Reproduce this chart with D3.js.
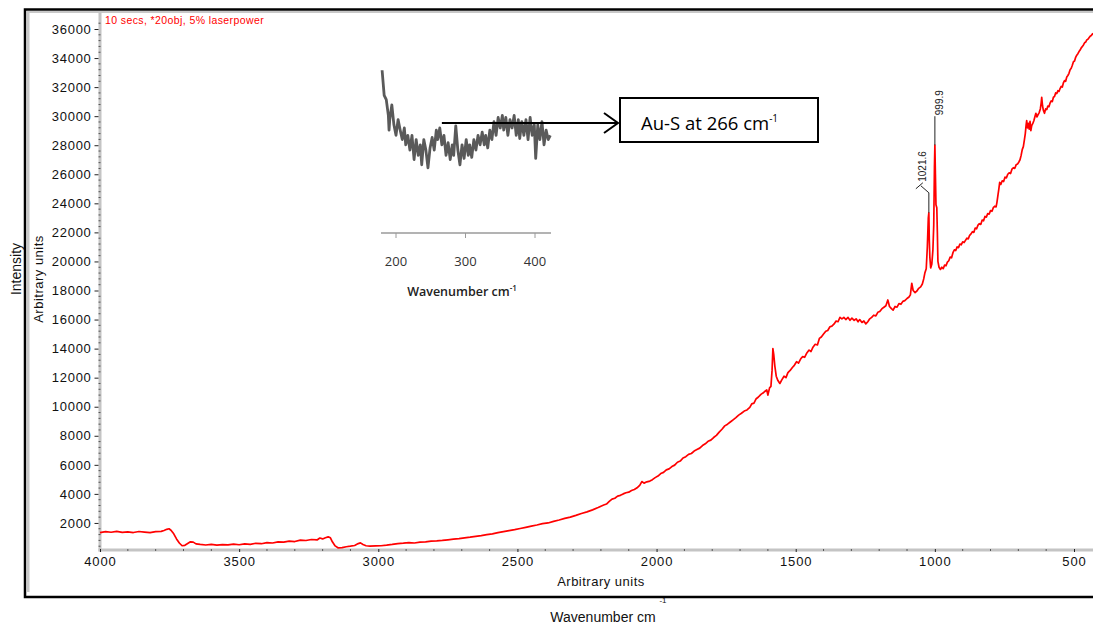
<!DOCTYPE html>
<html>
<head>
<meta charset="utf-8">
<script src="https://d3js.org/d3.v7.min.js"></script>
<style>
  body { margin: 0; background: #fff; }
  svg { display: block; font-family: "Liberation Sans", Arial, sans-serif; }
</style>
</head>
<body>
<div id="chart"></div>
<script>
// main Raman spectrum (wavenumber cm-1, intensity)
var wavenumbers = [4000,3980,3960,3940,3920,3900,3880,3860,3840,3820,3800,3780,3770,3760,3752,3745,3735,3725,3715,3705,3695,3685,3675,3665,3655,3640,3620,3600,3580,3560,3540,3520,3500,3480,3460,3440,3420,3400,3380,3360,3340,3320,3300,3280,3260,3240,3220,3210,3200,3190,3180,3172,3165,3155,3145,3130,3115,3100,3085,3072,3064,3055,3044,3030,3010,2990,2970,2950,2930,2910,2890,2870,2850,2830,2810,2790,2770,2750,2730,2710,2690,2670,2650,2630,2610,2590,2570,2550,2530,2510,2490,2470,2450,2430,2410,2390,2370,2350,2330,2310,2290,2270,2250,2230,2210,
  2200,2190,2180,2170,2160,2150,2140,2130,2120,2110,2100,2090,2080,2070,2060,2053,2045,2035,2024,2015,2005,1995,1985,1975,1965,1955,1945,1935,1925,1915,1905,1895,1885,1875,1865,1855,1845,1835,1825,1815,1805,1795,1785,1775,1765,1755,1745,1735,1725,1715,1705,1695,1685,1675,1665,1658,1650,1642,1635,1625,1615,1608,1604,
  1600,1594,1589,1585,1582,1579,1575,1570,1564,1557,1550,1542,1535,1528,1520,1512,1505,1497,1490,1482,1475,1468,1460,1452,1445,1438,1430,1422,1415,1408,1400,1392,1385,1377,1370,1362,1355,1348,1341,1334,1327,1320,1312,1305,1298,1290,1283,1276,1270,1262,1255,1248,1241,1234,1227,1220,1212,1205,1198,1190,1183,1176,1169,1163,1156,1150,1143,1136,1129,1122,1115,1108,1100,1093,1088,1083,1078,1071,1065,1058,1051,1045,1040,1036,1031,1027,1023.5,1021.6,1020,1018,1015,1011,1007,1004,1001.5,999.9,998,996,993,991,989,985,980,975,970,965,960,955,950,945,940,935,930,925,920,915,910,905,900,895,890,885,880,875,870,865,860,855,850,845,840,835,830,825,820,815,810,805,800,795,790,785,780,777,773,770,767,763,758,753,748,743,738,733,728,723,718,713,708,703,698,694,690,686,682,678,675,672,670,667,664,661,658,655,652,648,644,640,637,633,629,625,621,618,616,613,610,606,602,598,594,590,586,582,578,574,570,566,562,558,554,550,546,542,538,534,530,526,522,518,514,510,506,502,498,494,490,486,482,478,474,470,466,462,458,454,450,446,442,438,434,430,425,420];
var intensities = [1330,1400,1360,1420,1350,1390,1340,1410,1370,1330,1400,1420,1480,1560,1600,1500,1250,900,620,430,460,580,700,680,560,520,480,520,470,510,490,540,500,560,530,600,570,640,620,700,680,750,720,820,790,860,830,960,900,980,1040,980,700,420,290,300,360,400,450,580,630,520,430,400,420,430,470,520,580,610,650,620,680,700,750,770,800,840,880,920,970,1020,1080,1130,1190,1250,1330,1400,1470,1540,1620,1700,1780,1860,1950,2000,2110,2200,2310,2400,2520,2650,2760,2900,3060,
  3150,3230,3300,3480,3640,3700,3850,3900,4000,4080,4120,4230,4300,4420,4600,4850,4740,4830,4880,4980,5120,5230,5400,5480,5650,5720,5880,5980,6180,6260,6470,6560,6720,6780,6950,7050,7150,7330,7450,7620,7700,7880,8030,8250,8450,8680,8800,8950,9100,9250,9420,9550,9700,9780,9950,10200,10250,10550,10650,10850,10980,11100,11150,
  10800,11300,11400,12500,14000,13600,12800,12100,11800,11600,11850,12100,12000,12350,12500,12700,12850,13100,13000,13300,13450,13400,13700,13900,13800,14100,14300,14250,14700,14800,15000,15200,15250,15500,15550,15700,15900,15850,16150,16050,16150,16000,16150,15950,16100,15950,16050,15850,16000,15800,15900,15700,15850,16050,16150,16300,16250,16500,16550,16750,16850,16950,17350,16900,16750,16650,16900,16850,17100,17050,17250,17300,17450,17550,17700,18500,18000,17850,17950,18150,18250,18450,18800,19200,19500,21000,23000,23350,21500,20300,19550,19800,20800,22500,26500,28000,26000,23900,23700,22000,20000,19600,19450,19600,19500,19750,19700,19950,20050,20300,20250,20600,20800,20750,21000,20950,21200,21150,21350,21300,21450,21600,21550,21800,21900,22050,22000,22300,22250,22500,22600,22550,22850,22800,23100,23050,23300,23250,23500,23450,23700,23800,23750,24050,24600,25000,25450,25300,25550,25500,25800,25750,26000,26100,26050,26350,26450,26400,26650,26700,26850,27000,27300,27700,27900,28400,28800,29400,29700,29200,29500,29100,29650,29000,29350,29500,29700,30000,30200,29950,30100,30250,30500,30900,31300,30700,30400,30200,30500,30450,30700,30650,30900,31050,31000,31300,31350,31600,31550,31750,31700,31900,32050,32000,32300,32450,32400,32700,32800,32950,33200,33300,33500,33750,33800,34050,34200,34300,34450,34550,34700,34800,34900,35050,35100,35250,35300,35400,35500,35550,35650,35700,35850,35900];

var yTicks = [2000,4000,6000,8000,10000,12000,14000,16000,18000,20000,22000,24000,26000,28000,30000,32000,34000,36000];
var xTicks = [4000,3500,3000,2500,2000,1500,1000,500];

// labelled peaks
var peakPos = [1021.6, 999.9];
var peakLabels = ["1021.6", "999.9"];
var peakTops = [23350, 28000];

// inset: low-wavenumber region
var insetWn = [180,183,186,189,190,191,194,197,200,203,206,209,212,214,217,220,223,226,229,232,235,237,240,243,246,249,252,255,258,260,263,266,269,272,275,278,281,283,286,289,292,295,298,301,304,306,309,312,315,318,321,324,327,329,332,335,338,341,344,347,350,353,355,358,361,364,367,370,373,376,378,381,384,387,390,393,396,399,401,404,407,410,413,416,419,422];
var insetVal = [95,71,67,52,38,48,62,43,33,48,38,29,40,24,33,19,33,10,29,14,24,5,29,19,2,21,31,19,38,29,40,24,33,14,26,10,24,14,42,19,5,24,11,29,14,24,12,29,19,33,24,36,24,33,21,38,29,46,33,50,40,52,38,50,33,48,40,52,33,48,30,46,33,48,29,50,33,43,11,43,29,46,24,38,29,33];
var insetTicks = [200, 300, 400];
var insetNote = 266;

var W = 1093, H = 624;
var svg = d3.select("#chart").append("svg").attr("width", W).attr("height", H);

var x = d3.scaleLinear().domain([4000, 500]).range([100, 1074]);
var y = d3.scaleLinear().domain([0, 36000]).range([552, 29]);
var plotBottom = 550, plotTop = 12;

// outer frame
svg.append("rect").attr("x", 25).attr("y", 9.5).attr("width", 1100).attr("height", 587.5)
  .attr("fill", "none").attr("stroke", "#000").attr("stroke-width", 2.5);
svg.append("line").attr("x1", 28).attr("x2", 28).attr("y1", 11).attr("y2", 592)
  .attr("stroke", "#c8c8c8").attr("stroke-width", 3);
svg.append("line").attr("x1", 27).attr("x2", 1100).attr("y1", 12).attr("y2", 12)
  .attr("stroke", "#c8c8c8").attr("stroke-width", 2);

// axes lines
svg.append("line").attr("x1", 100).attr("x2", 100).attr("y1", plotTop).attr("y2", plotBottom + 1.5)
  .attr("stroke", "#c4c4c4").attr("stroke-width", 3);
svg.append("line").attr("x1", 98.5).attr("x2", 1100).attr("y1", plotBottom).attr("y2", plotBottom)
  .attr("stroke", "#c4c4c4").attr("stroke-width", 3);

// y axis ticks + labels
var yAxis = svg.append("g").attr("transform", "translate(98.5,0)")
  .call(d3.axisLeft(y).tickValues(yTicks).tickSize(4).tickPadding(3).tickFormat(d3.format("d")));
yAxis.select(".domain").remove();
yAxis.selectAll("line").attr("stroke", "#222");
yAxis.selectAll("text").attr("font-size", 13).attr("fill", "#111")
  .attr("font-family", "Liberation Sans, Arial").style("letter-spacing", "0.7px");

// y minor ticks
var yMinor = d3.range(400, 36800, 400).filter(function (v) { return v % 2000 !== 0 && y(v) > plotTop; });
svg.append("g").selectAll("line").data(yMinor).join("line")
  .attr("x1", 98.5).attr("x2", 100.5).attr("y1", function (d) { return y(d); }).attr("y2", function (d) { return y(d); })
  .attr("stroke", "#555").attr("stroke-width", 1);

// x axis ticks + labels
var xAxis = svg.append("g").attr("transform", "translate(0," + (plotBottom - 1) + ")")
  .call(d3.axisBottom(x).tickValues(xTicks).tickSize(3).tickPadding(5).tickFormat(d3.format("d")));
xAxis.select(".domain").remove();
xAxis.selectAll("line").attr("stroke", "#222");
xAxis.selectAll("text").attr("font-size", 13).attr("fill", "#111")
  .attr("font-family", "Liberation Sans, Arial").style("letter-spacing", "0.9px");

var xMinor = d3.range(400, 4000, 100).filter(function (v) { return v % 500 !== 0; });
svg.append("g").selectAll("line").data(xMinor).join("line")
  .attr("x1", function (d) { return x(d); }).attr("x2", function (d) { return x(d); })
  .attr("y1", plotBottom - 1).attr("y2", plotBottom + 1)
  .attr("stroke", "#555").attr("stroke-width", 1);

// spectrum
var pts = wavenumbers.map(function (w, i) { return [w, intensities[i]]; });
var line = d3.line().x(function (d) { return x(d[0]); }).y(function (d) { return y(d[1]); });
svg.append("path").datum(pts).attr("d", line)
  .attr("fill", "none").attr("stroke", "#ff0000").attr("stroke-width", 1.7).attr("stroke-linejoin", "round");

// peak labels with leader lines
var xs0 = x(peakPos[0]), ys0 = y(peakTops[0]);
svg.append("path")
  .attr("d", "M" + (xs0 - 13) + "," + (ys0 - 24) + "L" + (xs0 - 6) + "," + (ys0 - 30) +
    "M" + (xs0 - 8) + "," + (ys0 - 27) + "L" + xs0 + "," + (ys0 - 20) + "L" + xs0 + "," + ys0)
  .attr("fill", "none").attr("stroke", "#222").attr("stroke-width", 1);
svg.append("text").attr("transform", "translate(" + (xs0 - 3) + "," + (ys0 - 31) + ") rotate(-90)")
  .attr("font-size", 10).attr("fill", "#222").text(peakLabels[0]);

var xs1 = x(peakPos[1]), ys1 = y(peakTops[1]);
svg.append("line").attr("x1", xs1).attr("x2", xs1).attr("y1", ys1 - 29).attr("y2", ys1)
  .attr("stroke", "#222").attr("stroke-width", 1);
svg.append("text").attr("transform", "translate(" + (xs1 + 8) + "," + (ys1 - 30) + ") rotate(-90)")
  .attr("font-size", 10).attr("fill", "#222").text(peakLabels[1]);

// condition note
svg.append("text").attr("x", 105).attr("y", 24).attr("font-size", 10.5).attr("fill", "#ff0000")
  .style("letter-spacing", "0.4px").text("10 secs, *20obj, 5% laserpower");

// axis titles
svg.append("text").attr("x", 601).attr("y", 586).attr("text-anchor", "middle")
  .attr("font-size", 13).attr("fill", "#111").style("letter-spacing", "0.5px").text("Arbitrary units");
svg.append("text").attr("x", 603).attr("y", 622).attr("text-anchor", "middle")
  .attr("font-size", 14).attr("fill", "#111").text("Wavenumber cm");
svg.append("text").attr("x", 663).attr("y", 603).attr("text-anchor", "middle")
  .attr("font-size", 8).attr("fill", "#111").text("-1");
svg.append("text").attr("transform", "translate(21,269) rotate(-90)").attr("text-anchor", "middle")
  .attr("font-size", 14).attr("fill", "#111").text("Intensity");
svg.append("text").attr("transform", "translate(43,279) rotate(-90)").attr("text-anchor", "middle")
  .attr("font-size", 13).attr("fill", "#111").style("letter-spacing", "0.5px").text("Arbitrary units");

// inset
var ix = d3.scaleLinear().domain([200, 400]).range([396, 535]);
var iy = d3.scaleLinear().domain([0, 100]).range([170, 65]);
var ipts = insetWn.map(function (w, i) { return [w, insetVal[i]]; });
svg.append("path").datum(ipts)
  .attr("d", d3.line().x(function (d) { return ix(d[0]); }).y(function (d) { return iy(d[1]); }))
  .attr("fill", "none").attr("stroke", "#5a5a5a").attr("stroke-width", 2.8).attr("stroke-linejoin", "round");

svg.append("line").attr("x1", 381).attr("x2", 551).attr("y1", 233).attr("y2", 233)
  .attr("stroke", "#9a9a9a").attr("stroke-width", 1.5);
svg.append("g").selectAll("line").data(insetTicks).join("line")
  .attr("x1", function (d) { return ix(d); }).attr("x2", function (d) { return ix(d); })
  .attr("y1", 233).attr("y2", 238).attr("stroke", "#9a9a9a").attr("stroke-width", 1);
svg.append("g").selectAll("text").data(insetTicks).join("text")
  .attr("x", function (d) { return ix(d); }).attr("y", 266).attr("text-anchor", "middle")
  .attr("font-family", "Open Sans, sans-serif").attr("font-size", 13).attr("fill", "#333")
  .text(function (d) { return d; });
var it = svg.append("text").attr("x", 462).attr("y", 296).attr("text-anchor", "middle")
  .attr("font-family", "Open Sans, sans-serif").attr("font-size", 12.5).attr("font-weight", "600").attr("fill", "#222");
it.append("tspan").text("Wavenumber cm");
it.append("tspan").attr("dy", -5).attr("font-size", 8).text("-1");

// arrow to annotation
var ay = 123;
svg.append("line").attr("x1", ix(insetNote)).attr("x2", 617).attr("y1", ay).attr("y2", ay)
  .attr("stroke", "#000").attr("stroke-width", 2);
svg.append("path").attr("d", "M604," + (ay - 10) + "L618," + ay + "L604," + (ay + 10))
  .attr("fill", "none").attr("stroke", "#000").attr("stroke-width", 2);
svg.append("rect").attr("x", 620).attr("y", 98).attr("width", 198).attr("height", 44)
  .attr("fill", "#fff").attr("stroke", "#000").attr("stroke-width", 2);
var bt = svg.append("text").attr("x", 641).attr("y", 130)
  .attr("font-family", "Open Sans, sans-serif").attr("font-size", 18.5).attr("fill", "#000");
bt.append("tspan").text("Au-S at " + insetNote + " cm");
bt.append("tspan").attr("dy", -8).attr("font-size", 10).text("-1");
</script>
</body>
</html>
